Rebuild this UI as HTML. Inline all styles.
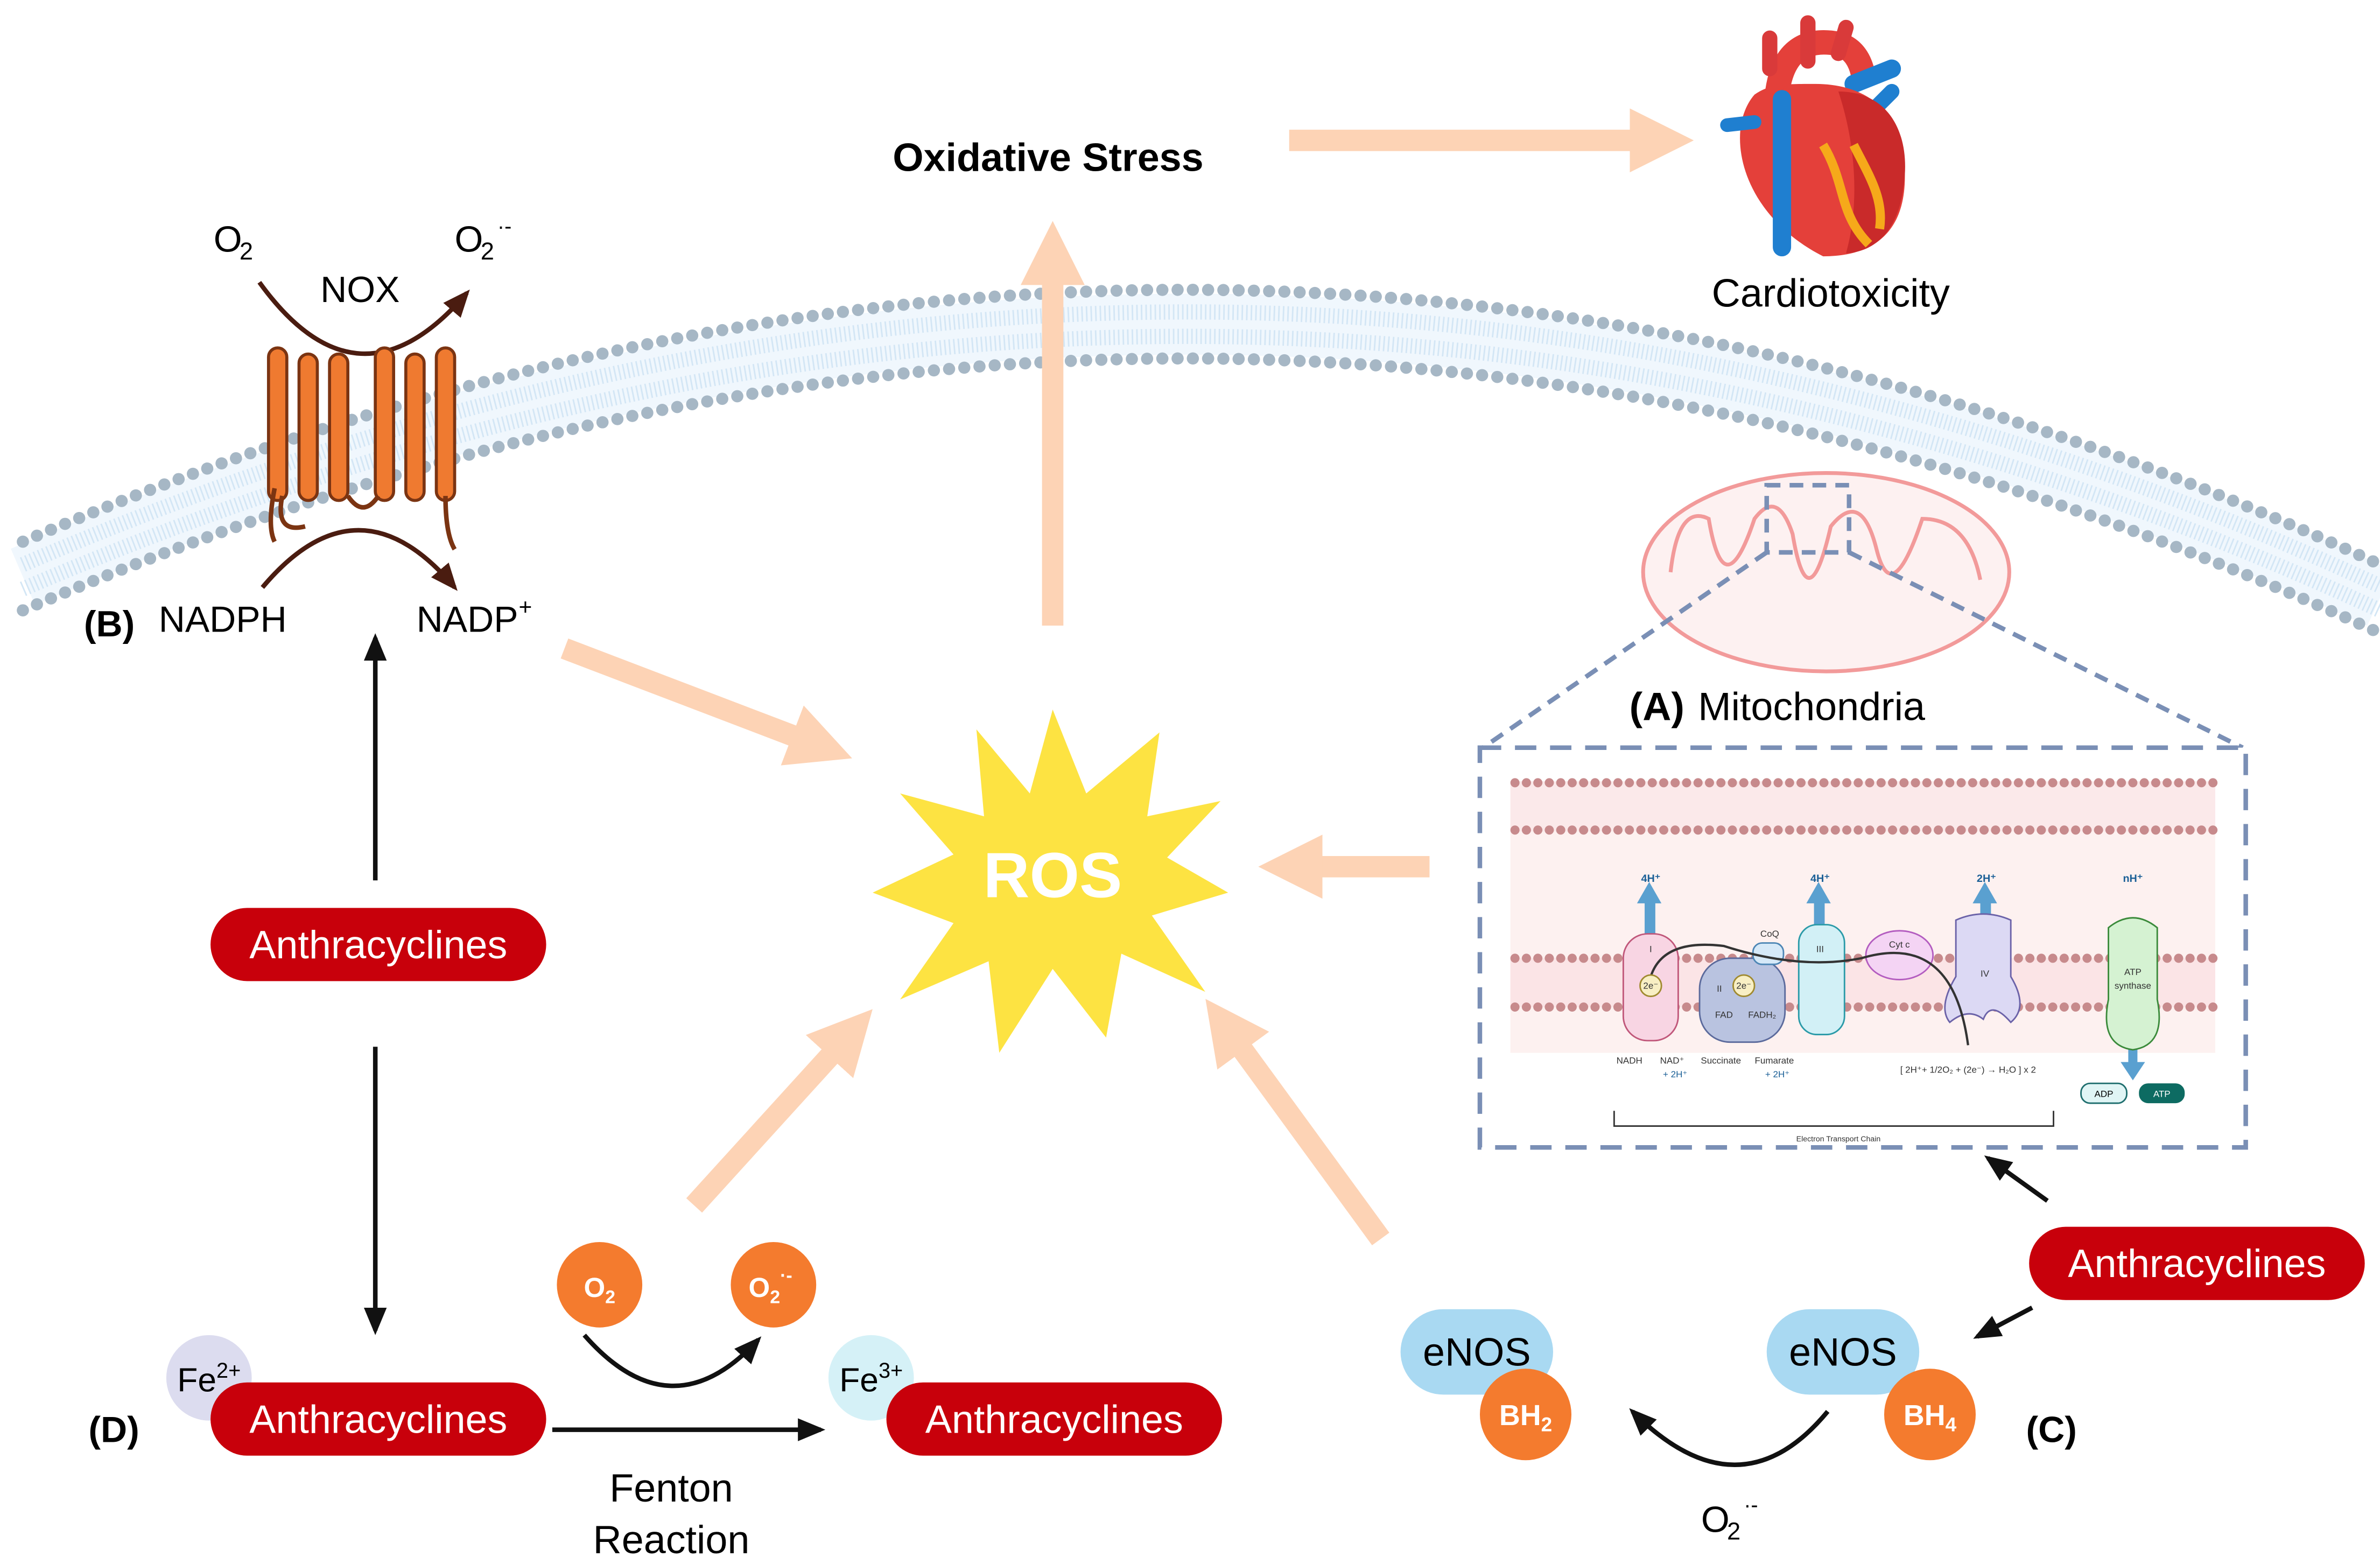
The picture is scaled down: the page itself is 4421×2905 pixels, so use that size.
<!DOCTYPE html>
<html><head><meta charset="utf-8"><style>
html,body{margin:0;padding:0;background:#fff;}
svg{display:block;}
text{font-family:"Liberation Sans",sans-serif;}
</style></head><body>
<svg width="4421" height="2905" viewBox="0 0 1560 1025" preserveAspectRatio="none" xmlns="http://www.w3.org/2000/svg">
<defs>
<marker id="pk" markerWidth="3" markerHeight="3" refX="1.2" refY="1.5" orient="auto" markerUnits="strokeWidth"><path d="M0,0 L3,1.5 L0,3 z" fill="#fdd3b5"/></marker>
<marker id="bk" markerWidth="6" markerHeight="6" refX="5" refY="3" orient="auto" markerUnits="strokeWidth"><path d="M0,0.5 L6,3 L0,5.5 z" fill="#111"/></marker>
<marker id="br" markerWidth="6" markerHeight="6" refX="5" refY="3" orient="auto" markerUnits="strokeWidth"><path d="M0,0.5 L6,3 L0,5.5 z" fill="#4a1c10"/></marker>
</defs>
<rect width="1560" height="1025" fill="#fff"/>
<path d="M15,378 Q800,40 1560,392" fill="none" stroke="#f0f7fd" stroke-width="40"/>
<path d="M15,370 Q800,32 1560,384" fill="none" stroke="#d3e6f5" stroke-width="10" stroke-dasharray="1 2"/>
<path d="M15,386 Q800,48 1560,400" fill="none" stroke="#d3e6f5" stroke-width="10" stroke-dasharray="1 2"/>
<path d="M15,355 Q800,17.5 1560,370" fill="none" stroke="#a6b7c5" stroke-width="8" stroke-linecap="round" stroke-dasharray="0 10"/>
<path d="M15,400 Q800,62.5 1560,415" fill="none" stroke="#a6b7c5" stroke-width="8" stroke-linecap="round" stroke-dasharray="0 10"/>
<text x="687" y="112" font-size="26" font-weight="bold" text-anchor="middle">Oxidative Stress</text>
<line x1="845" y1="92" x2="1085" y2="92" stroke="#fdd3b5" stroke-width="14" marker-end="url(#pk)"/>
<line x1="690" y1="410" x2="690" y2="170" stroke="#fdd3b5" stroke-width="14" marker-end="url(#pk)"/>
<g>
<path d="M1165,60 Q1170,25 1200,28 Q1220,30 1222,55" fill="none" stroke="#e4403a" stroke-width="16"/>
<path d="M1160,45 L1160,25 M1185,40 L1185,15 M1205,35 L1210,18" stroke="#d93a3a" stroke-width="10" stroke-linecap="round"/>
<path d="M1215,55 L1240,45" stroke="#1f7fd0" stroke-width="12" stroke-linecap="round"/>
<path d="M1225,75 L1240,60" stroke="#1f7fd0" stroke-width="10" stroke-linecap="round"/>
<path d="M1150,62 C1130,85 1140,140 1195,168 C1235,168 1252,145 1248,105 C1245,70 1220,55 1190,55 C1170,55 1160,55 1150,62z" fill="#e4403a"/>
<path d="M1205,60 C1240,60 1252,90 1248,120 C1245,150 1230,165 1210,166 C1220,130 1215,90 1205,60z" fill="#c92a2a"/>
<path d="M1168,65 L1168,162" stroke="#1f7fd0" stroke-width="12" stroke-linecap="round"/>
<path d="M1195,95 C1210,120 1205,140 1225,160 M1215,95 C1225,115 1235,130 1232,150" stroke="#f6a91a" stroke-width="6" fill="none"/>
<path d="M1150,80 L1132,82" stroke="#1f7fd0" stroke-width="9" stroke-linecap="round"/>
</g>
<text x="1200" y="201" font-size="26" text-anchor="middle">Cardiotoxicity</text>
<text x="140" y="165" font-size="24">O</text><text x="157" y="170" font-size="16">2</text>
<text x="298" y="165" font-size="24">O</text><text x="315" y="170" font-size="16">2</text><text x="326" y="153" font-size="14">·-</text>
<text x="236" y="198" font-size="24" text-anchor="middle">NOX</text>
<path d="M170,185 Q235,275 306,192" fill="none" stroke="#4a1c10" stroke-width="3" marker-end="url(#br)"/>
<g fill="#ef7a30" stroke="#7b3412" stroke-width="2">
<rect x="176" y="228" width="12" height="100" rx="6"/><rect x="196" y="232" width="12" height="96" rx="6"/><rect x="216" y="232" width="12" height="96" rx="6"/>
<rect x="246" y="228" width="12" height="100" rx="6"/><rect x="266" y="232" width="12" height="96" rx="6"/><rect x="286" y="228" width="12" height="100" rx="6"/>
</g>
<path d="M185,325 Q180,350 200,345 M228,325 Q238,340 248,325 M292,325 Q292,350 298,360 M180,320 Q175,345 180,355" fill="none" stroke="#7b3412" stroke-width="3"/>
<path d="M172,385 Q235,310 298,385" fill="none" stroke="#4a1c10" stroke-width="3" marker-end="url(#br)"/>
<text x="55" y="417" font-size="24" font-weight="bold">(B)</text>
<text x="104" y="414" font-size="24">NADPH</text>
<text x="273" y="414" font-size="24">NADP</text><text x="340" y="403" font-size="15">+</text>
<line x1="370" y1="425" x2="535" y2="488" stroke="#fdd3b5" stroke-width="14" marker-end="url(#pk)"/>
<polygon points="690,465 712,520 760,480 752,535 800,525 765,562 805,585 755,600 790,650 735,625 725,680 690,635 655,690 648,630 590,655 625,605 572,585 625,560 590,520 645,535 640,478 675,520" fill="#fde342"/>
<text x="690" y="588" font-size="42" font-weight="bold" fill="#fff" text-anchor="middle">ROS</text>
<line x1="937" y1="568" x2="850" y2="568" stroke="#fdd3b5" stroke-width="14" marker-end="url(#pk)"/>
<line x1="455" y1="790" x2="555" y2="680" stroke="#fdd3b5" stroke-width="14" marker-end="url(#pk)"/>
<line x1="905" y1="812" x2="805" y2="675" stroke="#fdd3b5" stroke-width="14" marker-end="url(#pk)"/>
<ellipse cx="1197" cy="375" rx="120" ry="65" fill="#fdf1f1" stroke="#f29a9a" stroke-width="2.5"/>
<path d="M1095,375 Q1100,330 1120,340 Q1130,400 1150,340 Q1165,320 1175,350 Q1185,410 1200,345 Q1220,320 1230,360 Q1240,400 1260,340 Q1290,340 1298,380" fill="none" stroke="#f29a9a" stroke-width="2.5"/>
<rect x="1158" y="318" width="54" height="44" fill="none" stroke="#7a8fb5" stroke-width="3" stroke-dasharray="9 6"/>
<line x1="1158" y1="362" x2="972" y2="490" stroke="#7a8fb5" stroke-width="3" stroke-dasharray="9 6"/>
<line x1="1212" y1="362" x2="1470" y2="490" stroke="#7a8fb5" stroke-width="3" stroke-dasharray="9 6"/>
<text x="1068" y="472" font-size="26" font-weight="bold">(A)</text>
<text x="1113" y="472" font-size="26">Mitochondria</text>
<rect x="970" y="490" width="502" height="262" fill="#fff" stroke="#7a8fb5" stroke-width="3" stroke-dasharray="14 9"/>
<rect x="990" y="512" width="462" height="33" fill="#fbe9ea"/>
<rect x="990" y="545" width="462" height="145" fill="#fdf1f0"/>
<rect x="990" y="628" width="462" height="32" fill="#fbe4e6"/>
<g stroke="#c78a8c" stroke-width="6" stroke-linecap="round" stroke-dasharray="0 7.5">
<line x1="993" y1="513" x2="1452" y2="513"/><line x1="993" y1="544" x2="1452" y2="544"/>
<line x1="993" y1="628" x2="1452" y2="628"/><line x1="993" y1="660" x2="1452" y2="660"/>
</g>
<g fill="#5aa0d0"><rect x="1078" y="590" width="7" height="22"/><polygon points="1073,592 1081,578 1089,592"/>
<rect x="1189" y="590" width="7" height="18"/><polygon points="1184,592 1192,578 1200,592"/>
<rect x="1298" y="590" width="7" height="12"/><polygon points="1293,592 1301,578 1309,592"/>
<rect x="1395" y="686" width="6" height="12"/><polygon points="1390,696 1398,708 1406,696"/></g>
<g font-size="7" font-weight="bold" fill="#1a5f96" text-anchor="middle"><text x="1082" y="578">4H⁺</text><text x="1193" y="578">4H⁺</text><text x="1302" y="578">2H⁺</text><text x="1398" y="578">nH⁺</text></g>
<rect x="1064" y="612" width="36" height="70" rx="16" fill="#f8d5e3" stroke="#c0577a"/>
<rect x="1114" y="628" width="56" height="55" rx="20" fill="#b9c3e0" stroke="#5b6a9c"/>
<rect x="1149" y="618" width="20" height="14" rx="6" fill="#d6e9f8" stroke="#4d86b5"/>
<rect x="1179" y="606" width="30" height="72" rx="12" fill="#d2f0f6" stroke="#2a9aa8"/>
<ellipse cx="1245" cy="626" rx="22" ry="16" fill="#f4d4f4" stroke="#b35cc0"/>
<path d="M1282,603 Q1300,595 1318,603 L1318,640 Q1330,660 1318,670 Q1305,655 1300,668 Q1290,660 1278,670 Q1270,660 1282,640z" fill="#dcd9f4" stroke="#6b62a8"/>
<path d="M1382,608 Q1398,595 1414,608 L1414,655 Q1420,685 1398,688 Q1376,685 1382,655z" fill="#d5f2d2" stroke="#3a8a3a"/>
<path d="M1082,640 Q1090,615 1130,620 Q1180,636 1220,628 Q1280,610 1290,685" fill="none" stroke="#333" stroke-width="1.5"/>
<circle cx="1082" cy="646" r="7" fill="#f8efc4" stroke="#a08a30"/><circle cx="1143" cy="646" r="7" fill="#f8efc4" stroke="#a08a30"/>
<g font-size="6" text-anchor="middle" fill="#333"><text x="1082" y="648">2e⁻</text><text x="1143" y="648">2e⁻</text>
<text x="1082" y="624">I</text><text x="1127" y="650">II</text><text x="1193" y="624">III</text><text x="1160" y="614">CoQ</text><text x="1245" y="621">Cyt c</text><text x="1301" y="640">IV</text><text x="1398" y="639">ATP</text><text x="1398" y="648">synthase</text>
<text x="1130" y="667">FAD</text><text x="1155" y="667">FADH₂</text>
<text x="1068" y="697">NADH</text><text x="1096" y="697">NAD⁺</text><text x="1128" y="697">Succinate</text><text x="1163" y="697">Fumarate</text>
<text x="1098" y="706" fill="#1a5f96">+ 2H⁺</text><text x="1165" y="706" fill="#1a5f96">+ 2H⁺</text>
<text x="1290" y="703">[ 2H⁺+ 1/2O₂ + (2e⁻) → H₂O ] x 2</text>
<text x="1205" y="748" font-size="5">Electron Transport Chain</text></g>
<rect x="1364" y="710" width="30" height="13" rx="6" fill="#e0f5f5" stroke="#1e6e6e"/><rect x="1402" y="710" width="30" height="13" rx="6" fill="#0d6b62"/>
<text x="1379" y="719" font-size="6" text-anchor="middle">ADP</text><text x="1417" y="719" font-size="6" text-anchor="middle" fill="#fff">ATP</text>
<path d="M1058,728 L1058,738 L1346,738 L1346,728" fill="none" stroke="#333"/>
<line x1="246" y1="577" x2="246" y2="418" stroke="#111" stroke-width="3" marker-end="url(#bk)"/>
<rect x="138" y="595" width="220" height="48" rx="24" fill="#c8000b"/>
<text x="248" y="628" font-size="26" fill="#fff" text-anchor="middle">Anthracyclines</text>
<line x1="246" y1="686" x2="246" y2="872" stroke="#111" stroke-width="3" marker-end="url(#bk)"/>
<circle cx="137" cy="903" r="28" fill="#dcdcef"/>
<text x="137" y="912" font-size="22" text-anchor="middle">Fe<tspan font-size="14" dy="-9">2+</tspan></text>
<rect x="138" y="906" width="220" height="48" rx="24" fill="#c8000b"/>
<text x="248" y="939" font-size="26" fill="#fff" text-anchor="middle">Anthracyclines</text>
<text x="58" y="945" font-size="24" font-weight="bold">(D)</text>
<line x1="362" y1="937" x2="538" y2="937" stroke="#111" stroke-width="3" marker-end="url(#bk)"/>
<text x="440" y="984" font-size="26" text-anchor="middle">Fenton</text>
<text x="440" y="1018" font-size="26" text-anchor="middle">Reaction</text>
<circle cx="393" cy="842" r="28" fill="#f47b2e"/><text x="393" y="850" font-size="18" font-weight="bold" fill="#fff" text-anchor="middle">O<tspan font-size="12" dy="4">2</tspan></text>
<circle cx="507" cy="842" r="28" fill="#f47b2e"/><text x="505" y="850" font-size="18" font-weight="bold" fill="#fff" text-anchor="middle">O<tspan font-size="12" dy="4">2</tspan><tspan font-size="12" dy="-14">·-</tspan></text>
<path d="M383,875 Q440,940 497,878" fill="none" stroke="#111" stroke-width="3" marker-end="url(#bk)"/>
<circle cx="571" cy="903" r="28" fill="#d5f1f7"/>
<text x="571" y="912" font-size="22" text-anchor="middle">Fe<tspan font-size="14" dy="-9">3+</tspan></text>
<rect x="581" y="906" width="220" height="48" rx="24" fill="#c8000b"/>
<text x="691" y="939" font-size="26" fill="#fff" text-anchor="middle">Anthracyclines</text>
<rect x="1330" y="804" width="220" height="48" rx="24" fill="#c8000b"/>
<text x="1440" y="837" font-size="26" fill="#fff" text-anchor="middle">Anthracyclines</text>
<line x1="1342" y1="787" x2="1303" y2="759" stroke="#111" stroke-width="3" marker-end="url(#bk)"/>
<line x1="1332" y1="857" x2="1296" y2="876" stroke="#111" stroke-width="3" marker-end="url(#bk)"/>
<rect x="918" y="858" width="100" height="56" rx="28" fill="#a9d9f2"/>
<text x="968" y="895" font-size="26" text-anchor="middle">eNOS</text>
<circle cx="1000" cy="927" r="30" fill="#f47b2e"/><text x="1000" y="934" font-size="19" font-weight="bold" fill="#fff" text-anchor="middle">BH<tspan font-size="13" dy="4">2</tspan></text>
<rect x="1158" y="858" width="100" height="56" rx="28" fill="#a9d9f2"/>
<text x="1208" y="895" font-size="26" text-anchor="middle">eNOS</text>
<circle cx="1265" cy="927" r="30" fill="#f47b2e"/><text x="1265" y="934" font-size="19" font-weight="bold" fill="#fff" text-anchor="middle">BH<tspan font-size="13" dy="4">4</tspan></text>
<text x="1328" y="945" font-size="24" font-weight="bold">(C)</text>
<path d="M1198,925 Q1140,995 1070,925" fill="none" stroke="#111" stroke-width="3" marker-end="url(#bk)"/>
<text x="1115" y="1004" font-size="24">O</text><text x="1132" y="1009" font-size="16">2</text><text x="1143" y="991" font-size="14">·-</text>
</svg>
</body></html>
